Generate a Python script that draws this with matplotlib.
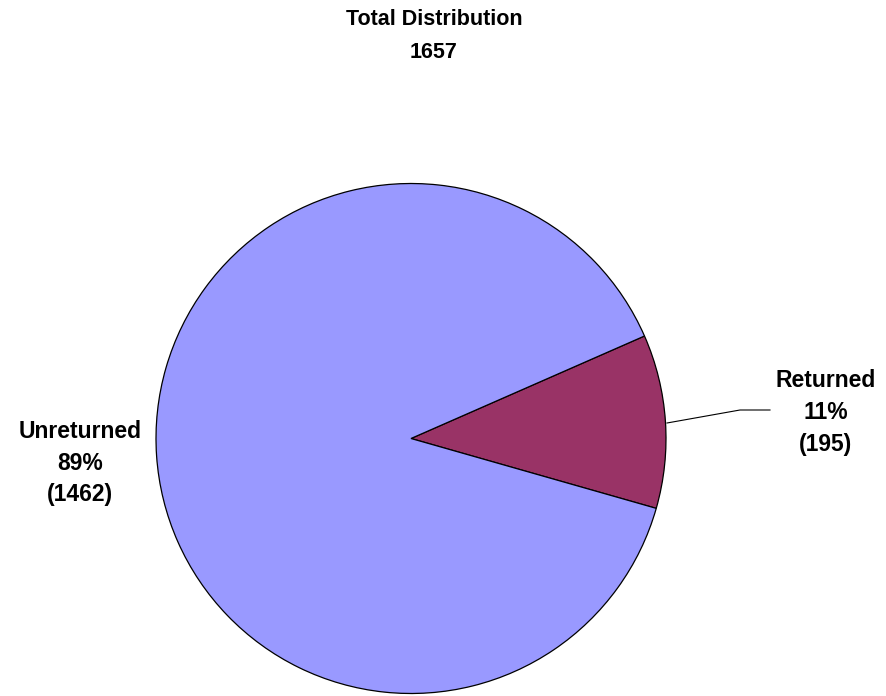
import matplotlib
matplotlib.use("Agg")
import matplotlib.pyplot as plt

categories = ["Returned", "Unreturned"]
percents = [11, 89]
counts = [195, 1462]
total = 1657
colors = ["#993366", "#9999FF"]

W, H = 886, 696
fig = plt.figure(figsize=(W / 100, H / 100), dpi=100)
ax = fig.add_axes([0, 0, 1, 1])

cx, cy, r = 411, H - 438.5, 255
ax.pie(percents, colors=colors, startangle=-15.9, counterclock=True,
       center=(cx, cy), radius=r, frame=True,
       wedgeprops=dict(edgecolor="black", linewidth=0.9))
ax.set_xlim(0, W)
ax.set_ylim(0, H)
ax.axis("off")

title_font = dict(family="Liberation Sans", fontsize=15.5, fontweight="bold",
                  ha="center", va="center", linespacing=1.7)
label_font = dict(family="Liberation Sans", fontsize=16.5, fontweight="bold",
                  ha="center", va="center", linespacing=1.48)

ax.text(434, H - 36, f"Total Distribution\n{total}", **title_font)
ax.text(826, H - 412.5, f"{categories[0]}\n{percents[0]}%\n({counts[0]})", **label_font)
ax.text(80, H - 463, f"{categories[1]}\n{percents[1]}%\n({counts[1]})", **label_font)

ax.plot([667, 740, 770], [H - 423, H - 410, H - 410], color="black", lw=0.8)

fig.savefig("out.png", dpi=100)
